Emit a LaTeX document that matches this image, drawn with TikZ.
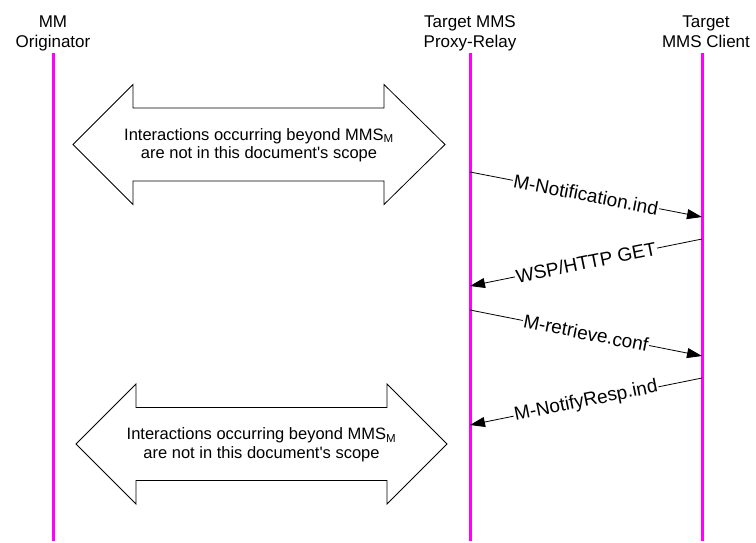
\documentclass[tikz,border=0pt]{standalone}
\usepackage{fontspec}
\setmainfont{Liberation Sans}
\usetikzlibrary{arrows.meta}
\definecolor{life}{RGB}{255,0,255}
\begin{document}
\begin{tikzpicture}[x=1pt,y=-1pt,
  lifeline/.style={draw=life, line width=3pt},
  actor/.style={font=\fontsize{17}{20}\selectfont, align=center, inner sep=0pt, anchor=south},
  scopebox/.style={draw=black, line width=0.8pt, fill=white},
  scopetext/.style={font=\fontsize{16.5}{18.5}\selectfont, align=center, inner sep=0pt},
  msg/.style={draw=black, line width=0.8pt, -{Triangle[length=15pt,width=10pt]}},
  msglbl/.style={font=\fontsize{19}{22}\selectfont, fill=white, inner sep=1pt, sloped}
]
\useasboundingbox (0,0) rectangle (756,542);

% participants
\node[actor] (orig)  at (53,54)  {MM\\Originator\strut};
\node[actor] (proxy) at (470,54) {Target MMS\\Proxy-Relay\strut};
\node[actor] (client) at (706,54) {Target\\MMS Client\strut};

% lifelines
\coordinate (oT) at (53,53);   \coordinate (oB) at (53,541);
\coordinate (pT) at (470,53);  \coordinate (pB) at (470,541);
\coordinate (cT) at (702,53);  \coordinate (cB) at (702,541);
\draw[lifeline] (oT) -- (oB);
\draw[lifeline] (pT) -- (pB);
\draw[lifeline] (cT) -- (cB);

% upper scope arrow
\draw[scopebox] (73,144.5) -- (133,84.5) -- (133,108) -- (384,108) -- (384,84.5)
  -- (445,144.5) -- (384,204.5) -- (384,181) -- (133,181) -- (133,204.5) -- cycle;
\node[scopetext] (scope1) at (259,145) {Interactions occurring beyond MMS\textsubscript{M}\\are not in this document\textquotesingle s scope};

% lower scope arrow
\draw[scopebox] (76,444) -- (136,384) -- (136,407.5) -- (387,407.5) -- (387,384)
  -- (447,444) -- (387,504) -- (387,480.5) -- (136,480.5) -- (136,504) -- cycle;
\node[scopetext] (scope2) at (261.5,444.5) {Interactions occurring beyond MMS\textsubscript{M}\\are not in this document\textquotesingle s scope};

% message end points
\coordinate (p1) at (470,172); \coordinate (c1) at (702,217);
\coordinate (c2) at (702,239); \coordinate (p2) at (470,286);
\coordinate (p3) at (470,310); \coordinate (c3) at (702,356);
\coordinate (c4) at (702,378); \coordinate (p4) at (470,425);

\draw[msg] (p1) -- node[msglbl] (m1) {M-Notification.ind} (c1);
\draw[msg] (c2) -- node[msglbl] (m2) {WSP/HTTP GET} (p2);
\draw[msg] (p3) -- node[msglbl] (m3) {M-retrieve.conf} (c3);
\draw[msg] (c4) -- node[msglbl] (m4) {M-NotifyResp.ind} (p4);
\end{tikzpicture}
\end{document}
